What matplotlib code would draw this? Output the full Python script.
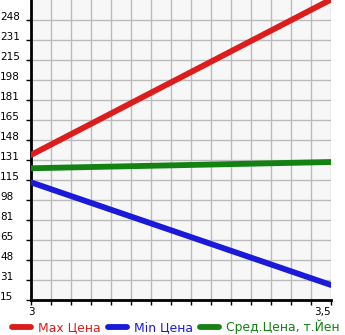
import numpy as np
import matplotlib.pyplot as plt
from matplotlib.lines import Line2D

# --- Daten ---
x_vals = [3.0, 3.5]
max_price = [135.7, 265.0]
min_price = [112.9, 27.5]
avg_price = [124.6, 129.8]

y_labels = ["15", "31", "48", "65", "81", "98", "115", "131", "148",
            "165", "181", "198", "215", "231", "248"]
x_labels = ["3", "3,5"]

Y_STEP = 16.64
y_pos = [15 + i * Y_STEP for i in range(len(y_labels))]

RED, BLUE, GREEN = "#dd1c1c", "#1a1ad8", "#138213"

fig = plt.figure(figsize=(3.45, 3.35), dpi=100)
ax = fig.add_axes([31 / 345, 35 / 335, 300 / 345, 300 / 335])
ax.set_facecolor("#f7f7f7")

for vals, col in [(max_price, RED), (min_price, BLUE), (avg_price, GREEN)]:
    ax.plot(x_vals, vals, color=col, linewidth=4.2, solid_capstyle="round", zorder=3)

ax.set_xlim(3.0, 3.5)
ax.set_ylim(15, 15 + 15 * Y_STEP)

ax.set_yticks(y_pos)
ax.set_yticklabels(y_labels, fontsize=7.5, ha="left", va="baseline")
ax.tick_params(axis="y", length=3.6, width=1, pad=18.5, colors="black")

ax.set_xticks([3.0, 3.5])
xt = ax.set_xticklabels(x_labels, fontsize=7.5)
xt[1].set_ha("right")
ax.set_xticks(np.linspace(3.0, 3.5, 16), minor=True)
ax.tick_params(axis="x", which="both", length=3.6, width=1, pad=1.5)

ax.grid(True, which="both", color="#bbbbbb", linewidth=1)
ax.set_axisbelow(True)
ax.spines[["top", "right"]].set_visible(False)
ax.spines["left"].set_linewidth(2)
ax.spines["bottom"].set_linewidth(2)

handles = [Line2D([], [], color=c, linewidth=4.2, solid_capstyle="round")
           for c in (RED, BLUE, GREEN)]
fig.legend(handles, ["Max Цена", "Min Цена", "Сред.Цена, т.Йен"],
           loc="lower center", bbox_to_anchor=(0.51, -0.03), ncol=3,
           frameon=False, fontsize=8.9, handlelength=1.5, handletextpad=0.6,
           columnspacing=0.6, labelcolor=[RED, BLUE, GREEN])

fig.savefig("out.png", dpi=100)
